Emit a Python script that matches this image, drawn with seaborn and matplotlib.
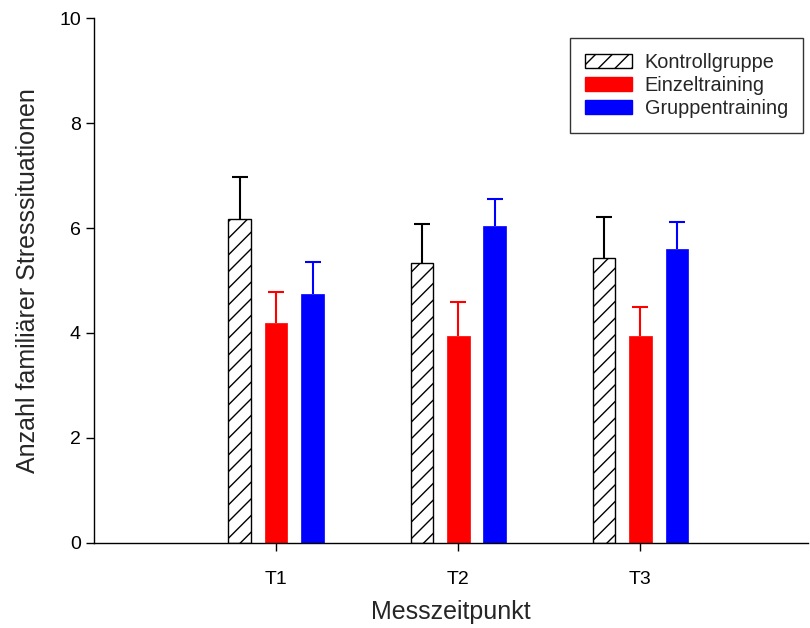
import numpy as np
import pandas as pd
import seaborn as sns
import matplotlib
matplotlib.use("Agg")
import matplotlib.pyplot as plt
from matplotlib.patches import Patch

sns.set_theme(style="white")
plt.rcParams["font.family"] = ["Liberation Sans", "DejaVu Sans"]
plt.rcParams["hatch.linewidth"] = 1.0

# Mittelwerte und Standardfehler je Messzeitpunkt und Gruppe
zeitpunkte = ["T1", "T2", "T3"]
gruppen = ["Kontrollgruppe", "Einzeltraining", "Gruppentraining"]
kontroll = [6.17, 5.33, 5.43]
einzel = [4.19, 3.94, 3.95]
gruppe = [4.74, 6.04, 5.60]
kontroll_err = [0.80, 0.75, 0.78]
einzel_err = [0.60, 0.65, 0.55]
gruppe_err = [0.61, 0.51, 0.51]

farben = {"Kontrollgruppe": "white", "Einzeltraining": "#ff0000", "Gruppentraining": "#0000ff"}
kanten = {"Kontrollgruppe": "black", "Einzeltraining": "#ff0000", "Gruppentraining": "#0000ff"}

df = pd.DataFrame({
    "Messzeitpunkt": zeitpunkte * 3,
    "Gruppe": np.repeat(gruppen, 3),
    "Wert": kontroll + einzel + gruppe,
    "Fehler": kontroll_err + einzel_err + gruppe_err,
})

fig = plt.figure(figsize=(8.10, 6.28), dpi=100)
ax = fig.add_axes([0.116, 0.1354, 0.8815, 0.8359])

sns.barplot(data=df, x="Messzeitpunkt", y="Wert", hue="Gruppe",
            order=zeitpunkte, hue_order=gruppen, palette=farben,
            width=0.6, gap=0.38, errorbar=None, legend=False, ax=ax,
            saturation=1)

# Balken nach Gruppe einfärben, Kontrollgruppe schraffiert; Fehlerbalken nur nach oben
for i, g in enumerate(gruppen):
    sub = df[df["Gruppe"] == g].set_index("Messzeitpunkt").loc[zeitpunkte]
    bars = ax.containers[i]
    xs = []
    for patch in bars.patches:
        patch.set_edgecolor(kanten[g])
        patch.set_linewidth(1.0 if g == "Kontrollgruppe" else 0.5)
        if g == "Kontrollgruppe":
            patch.set_hatch("//")
        xs.append(patch.get_x() + patch.get_width() / 2)
    eb = ax.errorbar(xs, sub["Wert"].values,
                     yerr=[np.zeros(len(xs)), sub["Fehler"].values],
                     fmt="none", ecolor=kanten[g], elinewidth=1.5,
                     capsize=6, capthick=1.5, zorder=3)
    eb[1][0].set_visible(False)

ax.set_xlim(-1, 2.92)
ax.set_ylim(0, 10)
ax.set_yticks([0, 2, 4, 6, 8, 10])
sns.despine(ax=ax)
for side in ["left", "bottom"]:
    ax.spines[side].set_color("black")
    ax.spines[side].set_linewidth(1.0)
ax.tick_params(axis="both", direction="out", length=6, width=1.0,
               colors="black", labelsize=14, left=True, bottom=True)
ax.tick_params(axis="x", pad=14)
ax.set_xlabel("Messzeitpunkt", fontsize=18)
ax.xaxis.set_label_coords(0.5, -0.131)
ax.xaxis.label.set_verticalalignment("center")
ax.set_ylabel("Anzahl familiärer Stresssituationen", fontsize=18, labelpad=14)

handles = [
    Patch(facecolor="white", edgecolor="black", hatch="//", linewidth=1.0, label=gruppen[0]),
    Patch(facecolor="#ff0000", edgecolor="#ff0000", label=gruppen[1]),
    Patch(facecolor="#0000ff", edgecolor="#0000ff", label=gruppen[2]),
]
leg = ax.legend(handles=handles, loc="upper right", bbox_to_anchor=(0.993, 0.962),
                borderaxespad=0, fontsize=14.3, frameon=True, fancybox=False,
                edgecolor="black", handlelength=2.35, handleheight=0.7,
                labelspacing=0.2, borderpad=0.75, handletextpad=0.65)
leg.get_frame().set_linewidth(1.0)

fig.savefig("out.png", dpi=100)
